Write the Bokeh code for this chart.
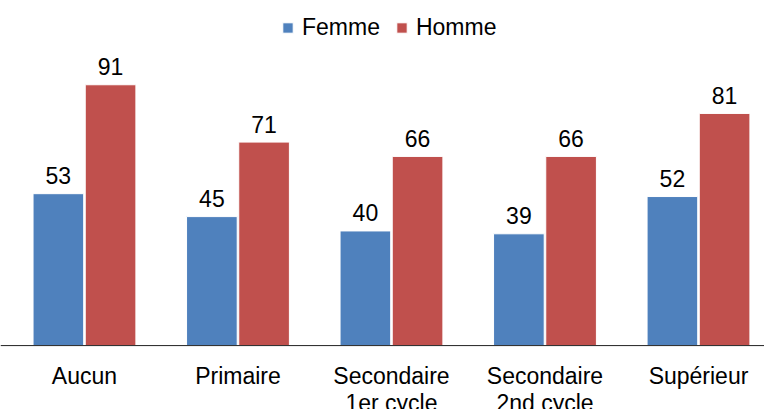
from bokeh.plotting import figure
from bokeh.models import ColumnDataSource, Range1d, Span, Legend, LegendItem
from bokeh.core.properties import value
from bokeh.embed import file_html
from bokeh.resources import INLINE

categories = ["Aucun", "Primaire", "Secondaire\n1er cycle", "Secondaire\n2nd cycle", "Supérieur"]
femme = [53, 45, 40, 39, 52]
homme = [91, 71, 66, 66, 81]
series_names = ["Femme", "Homme"]
colors = ["#4F81BD", "#C0504D"]

FONT = "Liberation Sans"
idx = [i + 0.5 for i in range(len(categories))]
off = 0.17
bw = 0.33

p = figure(width=764, height=409, output_backend="svg", toolbar_location=None,
           x_range=Range1d(-0.047, 4.930), y_range=Range1d(-22.3, 120.4),
           min_border_left=0, min_border_right=0, min_border_top=0, min_border_bottom=0)
p.outline_line_color = None
p.xaxis.visible = False
p.yaxis.visible = False
p.xgrid.visible = False
p.ygrid.visible = False

src_f = ColumnDataSource(dict(x=[c - off for c in idx], top=femme, lab=[str(v) for v in femme]))
src_h = ColumnDataSource(dict(x=[c + off for c in idx], top=homme, lab=[str(v) for v in homme]))

rf = p.vbar(x="x", top="top", bottom=0, width=bw, source=src_f, fill_color=colors[0],
            line_color="white", line_width=1)
rh = p.vbar(x="x", top="top", bottom=0, width=bw, source=src_h, fill_color=colors[1],
            line_color="white", line_width=1)

for s in (src_f, src_h):
    p.text(x="x", y="top", text="lab", source=s, text_align="center", text_baseline="alphabetic",
           y_offset=-18, text_font=value(FONT), text_font_size="23px", text_color="black")

p.add_layout(Span(location=0, dimension="width", line_color="#222222", line_width=1))

src_c = ColumnDataSource(dict(x=idx, y=[0] * len(idx), lab=categories))
p.text(x="x", y="y", text="lab", source=src_c, text_align="center", text_baseline="top",
       y_offset=17, text_font=value(FONT), text_font_size="23px", text_color="black",
       text_line_height=1.05)

legend = Legend(items=[LegendItem(label=series_names[0], renderers=[rf]),
                       LegendItem(label=series_names[1], renderers=[rh])],
                orientation="horizontal", location=(281, 368),
                label_text_font=FONT, label_text_font_size="23px", label_text_color="black",
                glyph_width=13, glyph_height=13, label_standoff=8, spacing=15,
                padding=0, margin=0, border_line_color=None, background_fill_alpha=0)
p.add_layout(legend)

open("out.html", "w").write(file_html(p, INLINE))
